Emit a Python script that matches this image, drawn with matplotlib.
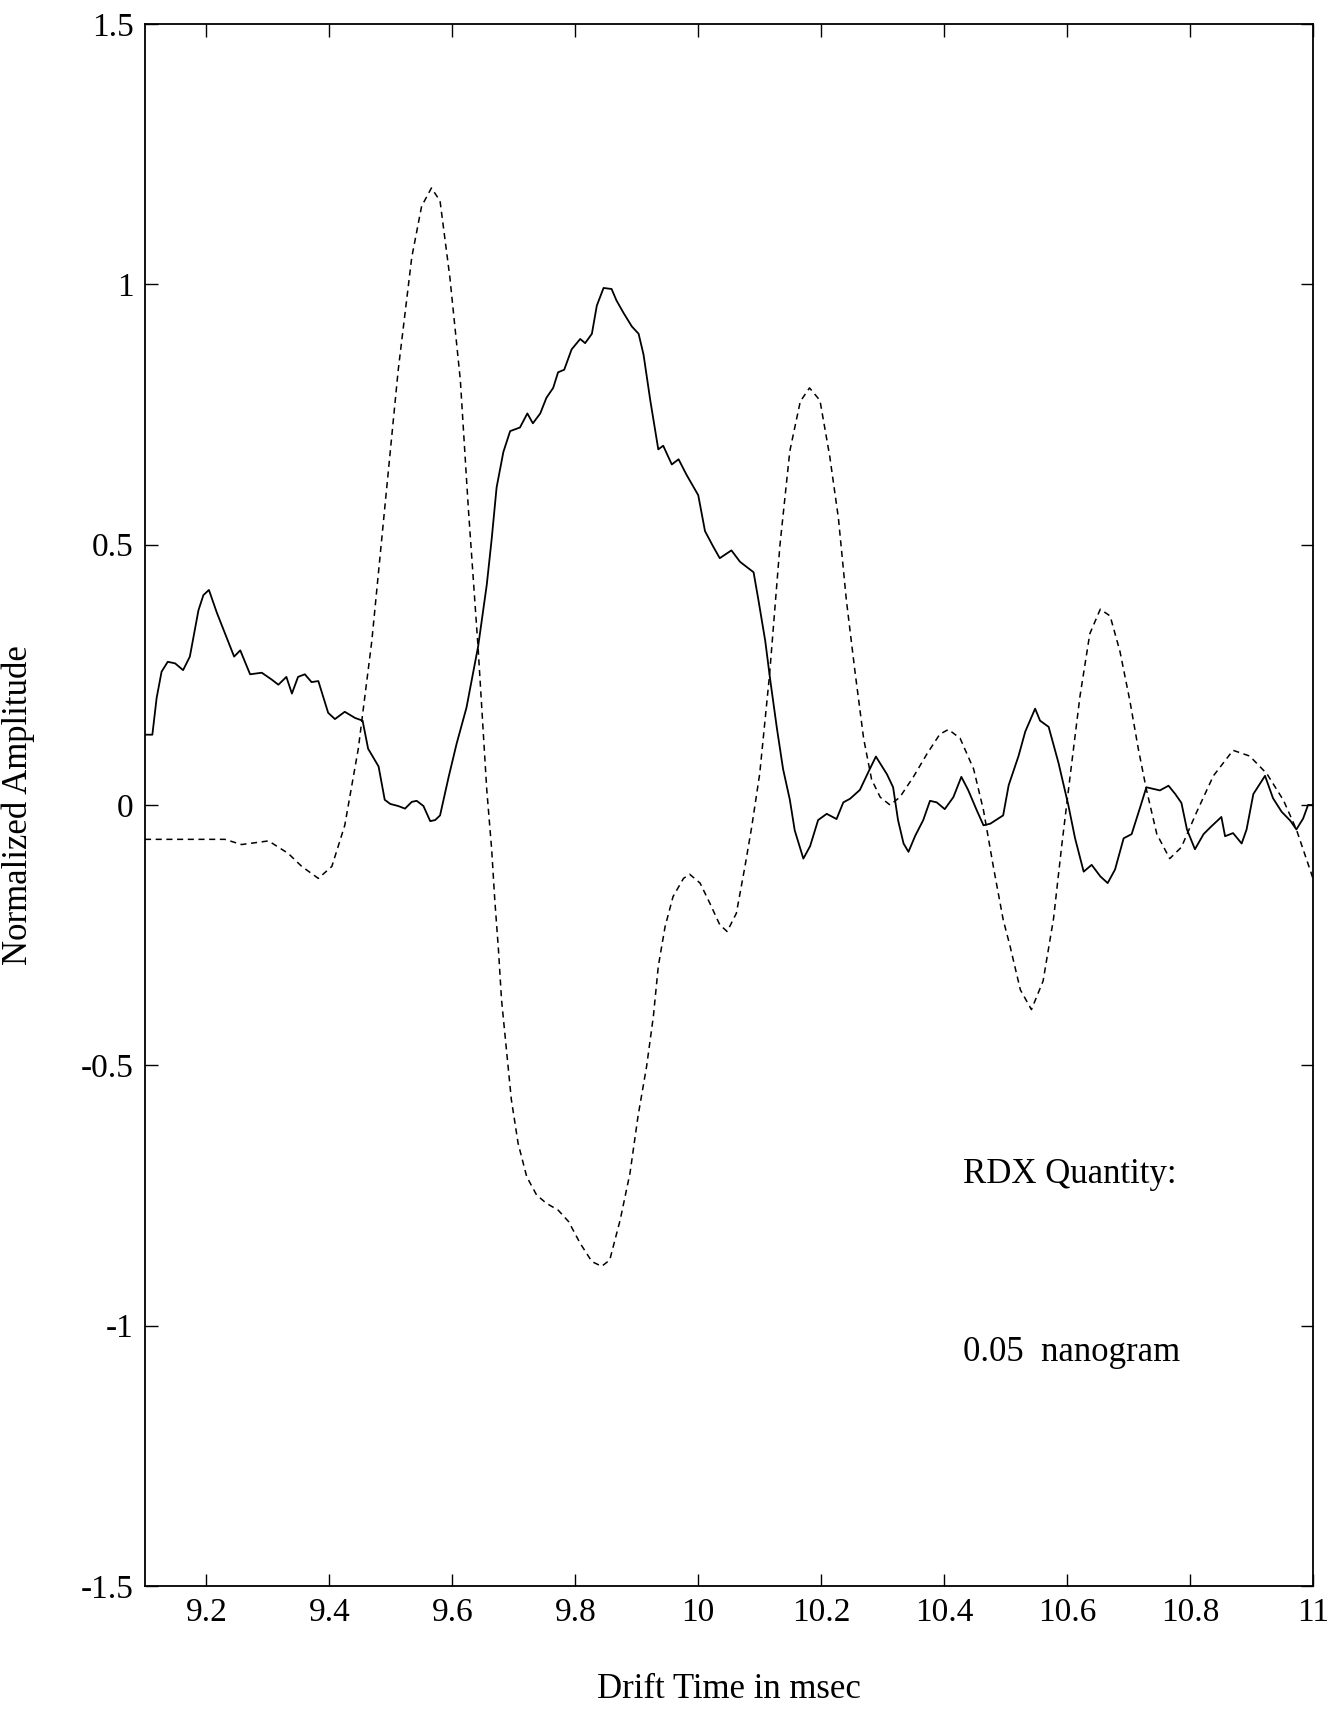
import matplotlib
matplotlib.use("Agg")
import matplotlib.pyplot as plt

plt.rcParams['font.family'] = ['Liberation Serif', 'DejaVu Serif']
plt.rcParams['axes.unicode_minus'] = False

# solid trace (measured signal)
solid_t = [9.100, 9.112, 9.119, 9.127, 9.137, 9.149, 9.162, 9.173, 9.187, 9.195,
           9.204, 9.217, 9.230, 9.245, 9.255, 9.271, 9.290, 9.306, 9.317, 9.330,
           9.339, 9.349, 9.360, 9.371, 9.382, 9.398, 9.409, 9.425, 9.442, 9.454,
           9.463, 9.480, 9.490, 9.499, 9.512, 9.523, 9.534, 9.542, 9.553, 9.564,
           9.572, 9.580, 9.594, 9.607, 9.623, 9.642, 9.656, 9.664, 9.672, 9.683,
           9.694, 9.710, 9.722, 9.731, 9.743, 9.753, 9.764, 9.772, 9.782, 9.794,
           9.808, 9.816, 9.827, 9.835, 9.846, 9.859, 9.867, 9.878, 9.892, 9.903,
           9.911, 9.922, 9.935, 9.943, 9.957, 9.968, 9.981, 10.000, 10.011, 10.024,
           10.035, 10.054, 10.068, 10.090, 10.098, 10.109, 10.117, 10.128, 10.138, 10.149,
           10.157, 10.171, 10.182, 10.195, 10.209, 10.225, 10.236, 10.247, 10.263, 10.277,
           10.289, 10.307, 10.317, 10.325, 10.334, 10.342, 10.353, 10.366, 10.377, 10.388,
           10.401, 10.415, 10.428, 10.439, 10.453, 10.464, 10.475, 10.496, 10.505, 10.521,
           10.532, 10.548, 10.556, 10.570, 10.586, 10.602, 10.613, 10.627, 10.640, 10.654,
           10.666, 10.678, 10.692, 10.705, 10.719, 10.729, 10.751, 10.765, 10.776, 10.786,
           10.795, 10.808, 10.822, 10.833, 10.851, 10.857, 10.870, 10.884, 10.892, 10.903,
           10.922, 10.935, 10.949, 10.963, 10.973, 10.984, 10.992, 11.000]
solid_a = [0.135, 0.135, 0.206, 0.256, 0.275, 0.272, 0.259, 0.285, 0.374, 0.403,
           0.413, 0.369, 0.330, 0.285, 0.297, 0.251, 0.254, 0.241, 0.231, 0.246,
           0.214, 0.246, 0.251, 0.236, 0.238, 0.177, 0.165, 0.179, 0.167, 0.162,
           0.108, 0.074, 0.010, 0.002, -0.002, -0.007, 0.006, 0.008, -0.002, -0.031,
           -0.029, -0.020, 0.054, 0.118, 0.187, 0.305, 0.423, 0.511, 0.610, 0.678,
           0.718, 0.725, 0.752, 0.733, 0.752, 0.782, 0.801, 0.831, 0.836, 0.875,
           0.895, 0.887, 0.905, 0.959, 0.993, 0.991, 0.969, 0.946, 0.919, 0.905,
           0.865, 0.777, 0.683, 0.690, 0.654, 0.664, 0.634, 0.595, 0.526, 0.497,
           0.474, 0.489, 0.467, 0.447, 0.393, 0.315, 0.241, 0.147, 0.069, 0.010,
           -0.049, -0.103, -0.079, -0.029, -0.017, -0.027, 0.005, 0.012, 0.029, 0.064,
           0.093, 0.059, 0.034, -0.029, -0.074, -0.090, -0.059, -0.029, 0.008, 0.005,
           -0.008, 0.015, 0.054, 0.029, -0.010, -0.039, -0.036, -0.020, 0.038, 0.094,
           0.141, 0.185, 0.162, 0.150, 0.081, 0.000, -0.064, -0.128, -0.115, -0.137,
           -0.150, -0.124, -0.064, -0.056, -0.004, 0.034, 0.028, 0.037, 0.021, 0.004,
           -0.047, -0.085, -0.056, -0.043, -0.023, -0.060, -0.054, -0.074, -0.047, 0.021,
           0.056, 0.013, -0.013, -0.030, -0.047, -0.026, 0.000, 0.000]

# dashed trace (model / reference)
dash_t = [9.100, 9.230, 9.257, 9.301, 9.333, 9.355, 9.382, 9.404, 9.425, 9.447,
          9.469, 9.490, 9.512, 9.534, 9.550, 9.566, 9.580, 9.596, 9.613, 9.626,
          9.642, 9.656, 9.664, 9.669, 9.675, 9.680, 9.688, 9.696, 9.707, 9.721,
          9.737, 9.753, 9.772, 9.789, 9.808, 9.827, 9.843, 9.856, 9.873, 9.889,
          9.902, 9.916, 9.927, 9.935, 9.946, 9.959, 9.976, 9.986, 10.003, 10.019,
          10.035, 10.047, 10.062, 10.076, 10.087, 10.100, 10.116, 10.133, 10.149, 10.166,
          10.181, 10.198, 10.214, 10.228, 10.241, 10.255, 10.269, 10.282, 10.296, 10.312,
          10.328, 10.350, 10.372, 10.393, 10.407, 10.426, 10.448, 10.464, 10.480, 10.496,
          10.507, 10.524, 10.542, 10.561, 10.578, 10.591, 10.605, 10.621, 10.637, 10.654,
          10.670, 10.686, 10.702, 10.716, 10.729, 10.746, 10.767, 10.786, 10.811, 10.838,
          10.870, 10.897, 10.925, 10.952, 10.973, 11.000]
dash_a = [-0.066, -0.066, -0.076, -0.069, -0.093, -0.118, -0.141, -0.118, -0.039, 0.108,
          0.315, 0.570, 0.836, 1.052, 1.150, 1.185, 1.160, 1.013, 0.816, 0.570,
          0.300, 0.029, -0.086, -0.182, -0.278, -0.374, -0.470, -0.566, -0.650, -0.714,
          -0.749, -0.765, -0.778, -0.800, -0.842, -0.877, -0.886, -0.874, -0.797, -0.707,
          -0.598, -0.502, -0.406, -0.310, -0.234, -0.176, -0.141, -0.133, -0.150, -0.189,
          -0.230, -0.243, -0.208, -0.118, -0.042, 0.060, 0.250, 0.500, 0.680, 0.775,
          0.801, 0.777, 0.669, 0.551, 0.393, 0.256, 0.128, 0.049, 0.015, 0.000,
          0.015, 0.054, 0.098, 0.136, 0.145, 0.128, 0.069, -0.010, -0.118, -0.220,
          -0.270, -0.355, -0.393, -0.338, -0.218, -0.081, 0.056, 0.209, 0.329, 0.376,
          0.363, 0.295, 0.201, 0.107, 0.030, -0.056, -0.103, -0.081, -0.013, 0.056,
          0.105, 0.094, 0.060, 0.009, -0.047, -0.141]

xticks = [9.2, 9.4, 9.6, 9.8, 10, 10.2, 10.4, 10.6, 10.8, 11]
xtick_labels = ["9.2", "9.4", "9.6", "9.8", "10", "10.2", "10.4", "10.6", "10.8", "11"]
yticks = [-1.5, -1, -0.5, 0, 0.5, 1, 1.5]
ytick_labels = ["-1.5", "-1", "-0.5", "0", "0.5", "1", "1.5"]

fig = plt.figure(figsize=(13.35, 17.12), dpi=100)
ax = fig.add_axes([0.1086, 0.0736, 0.8749, 0.9124])

ax.plot(solid_t, solid_a, color='black', lw=1.3)
ax.plot(dash_t, dash_a, color='black', lw=1.1, linestyle=(0, (4, 3)))

ax.set_xlim(9.1, 11)
ax.set_ylim(-1.5, 1.5)
ax.set_xticks(xticks)
ax.set_xticklabels(xtick_labels)
ax.set_yticks(yticks)
ax.set_yticklabels(ytick_labels)
ax.tick_params(direction='in', length=9, width=1, top=True, right=True,
               labelsize=24, pad=8)
for s in ax.spines.values():
    s.set_linewidth(1.3)

ax.set_xlabel("Drift Time in msec", fontsize=25)
ax.set_ylabel("Normalized Amplitude", fontsize=25)
ax.xaxis.set_label_coords(0.5, -0.056)
ax.yaxis.set_label_coords(-0.094, 0.5)

ax.text(10.431, -0.726, "RDX Quantity:", fontsize=25, va='baseline')
ax.text(10.431, -1.068, "0.05  nanogram", fontsize=25, va='baseline')

fig.savefig("out.png", dpi=100)
